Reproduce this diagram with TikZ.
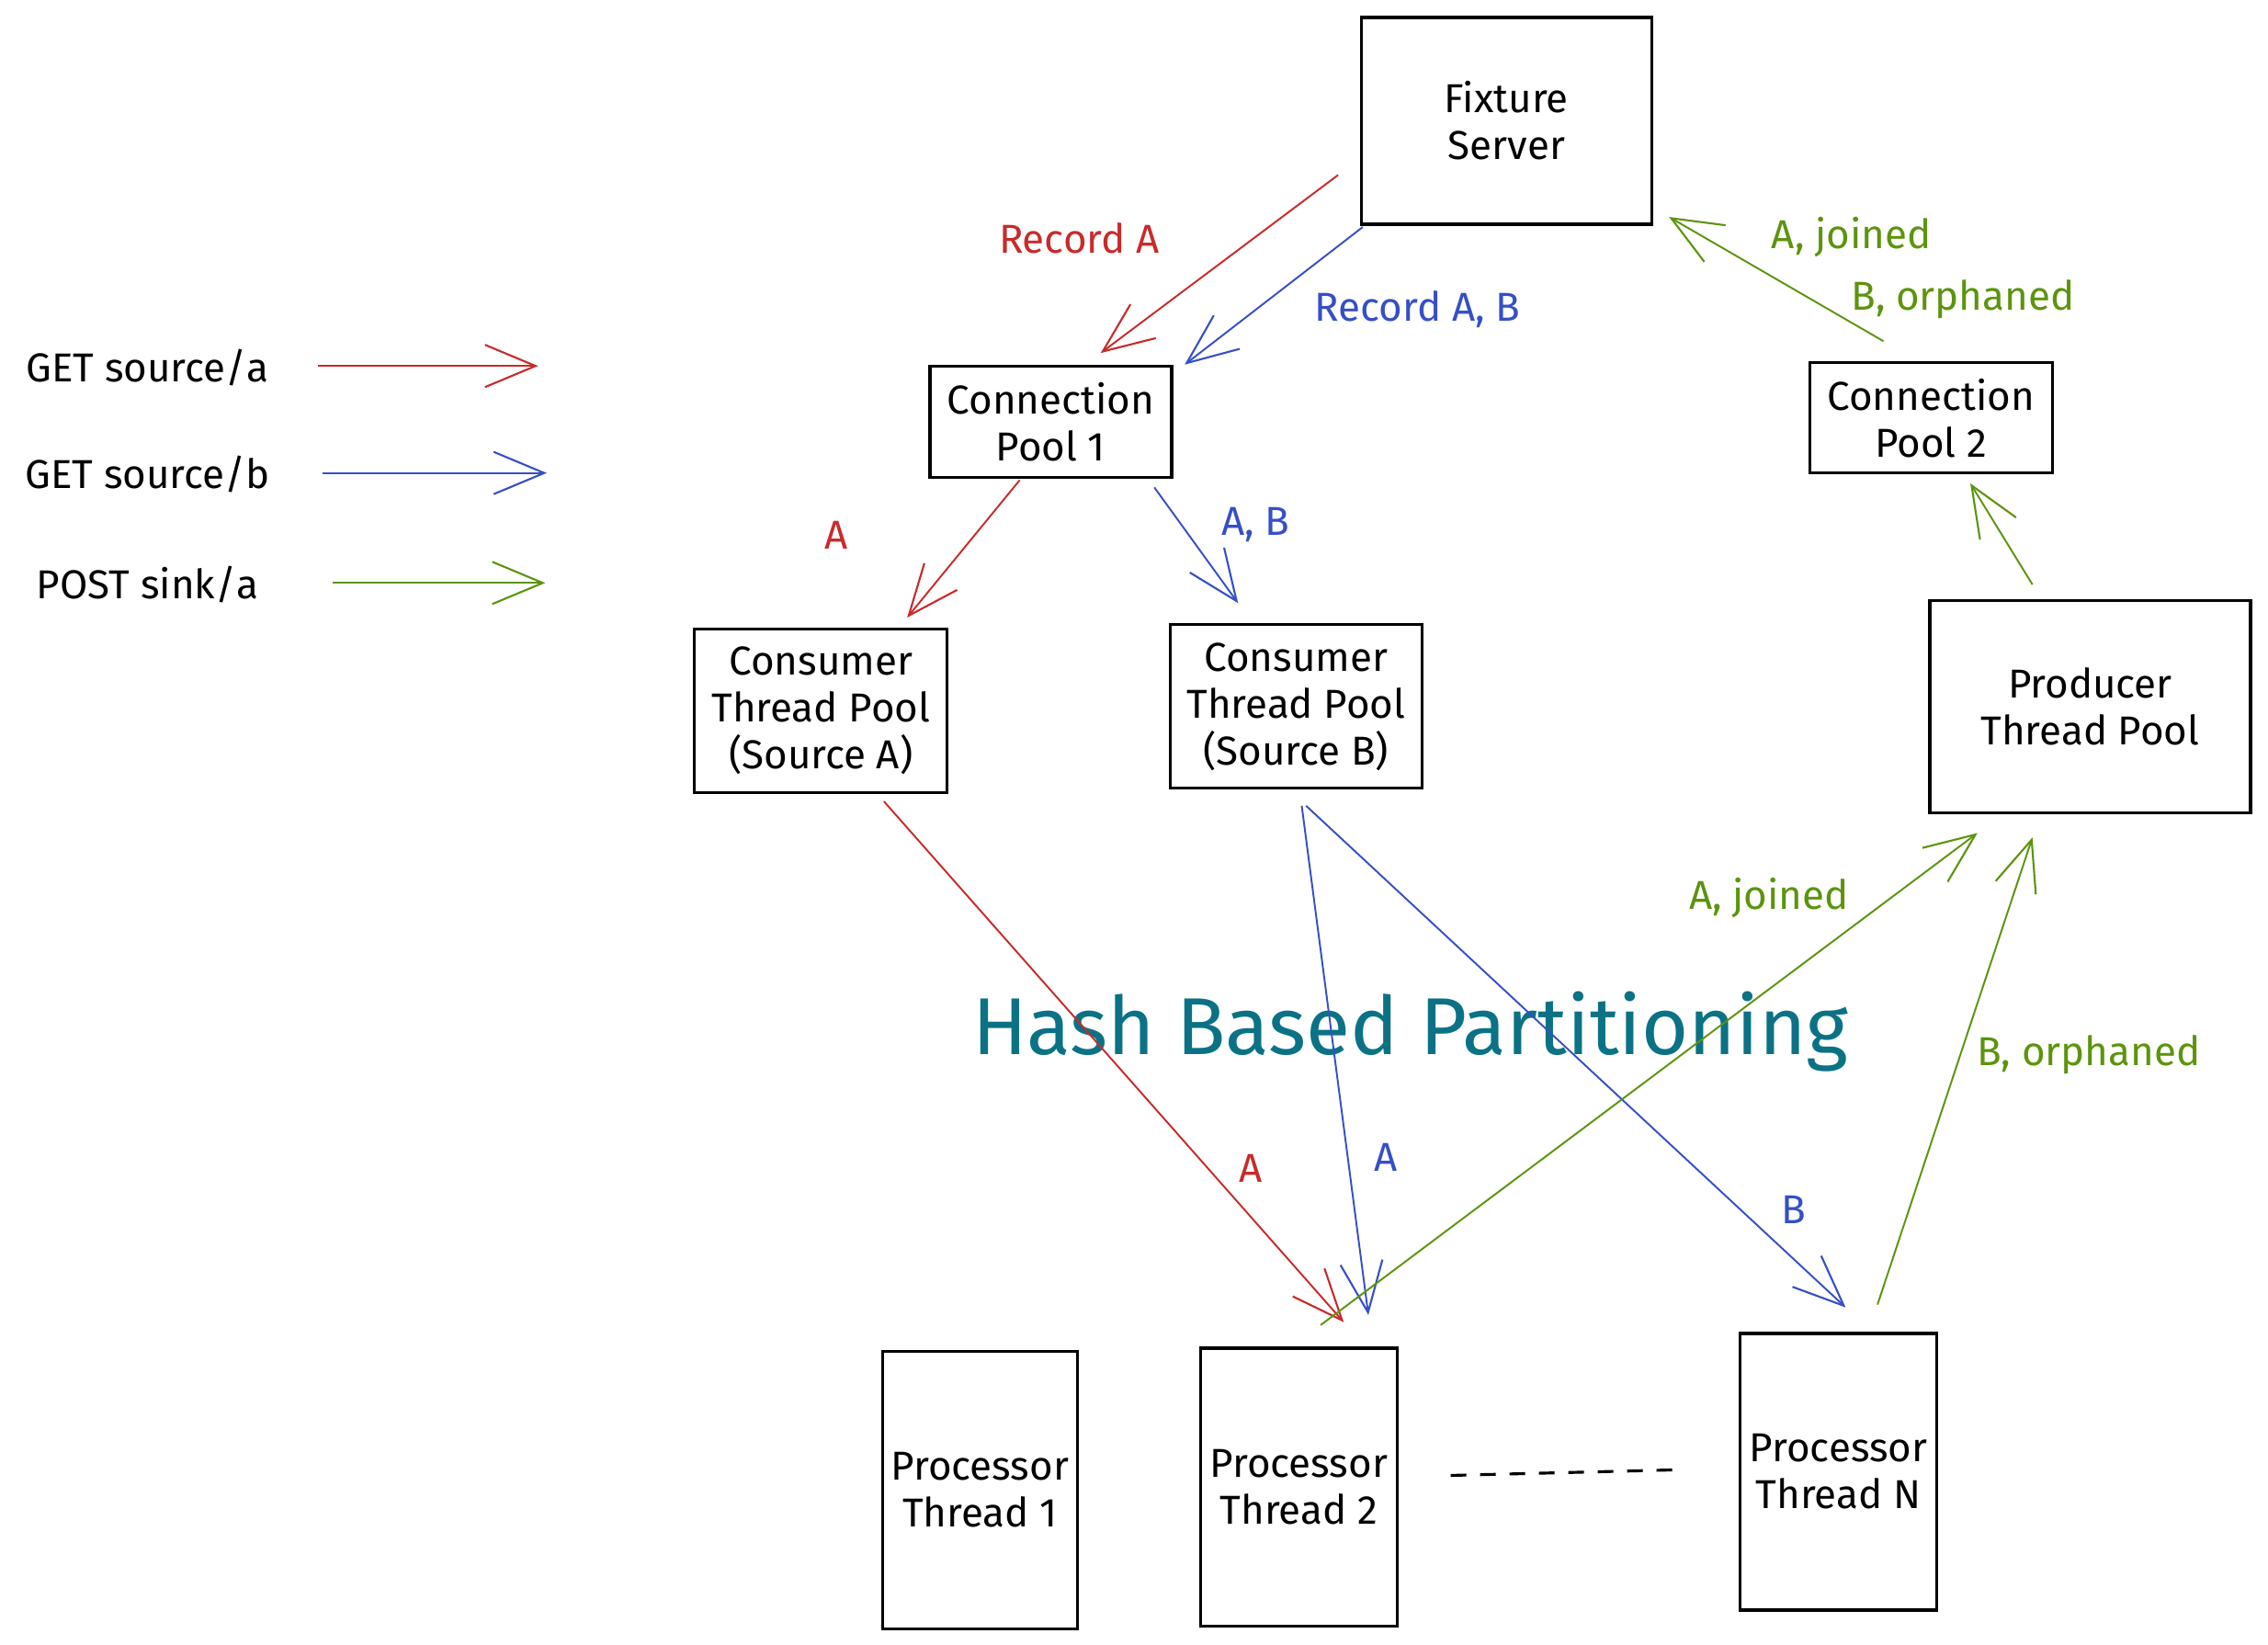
\documentclass[tikz,border=0pt]{standalone}
\usepackage{fontspec}
\setmainfont{Fira Sans}
\usepackage{tikz}
\usetikzlibrary{arrows.meta,calc}
\definecolor{exred}{HTML}{C92A2A}
\definecolor{exblue}{HTML}{364FC7}
\definecolor{exgreen}{HTML}{5C940D}
\definecolor{exteal}{HTML}{0B7285}
\tikzstyle{block}=[rectangle, draw=black, line width=.9pt, align=center, inner sep=2pt, font=\fontsize{12.5}{14.5}\selectfont]
\tikzstyle{flow}=[draw, line width=.55pt, -{Straight Barb[length=5.5mm, width=4.6mm, line width=.6pt]}]
\tikzstyle{geta}=[flow, exred]
\tikzstyle{getb}=[flow, exblue]
\tikzstyle{post}=[flow, exgreen]
\tikzstyle{lbl}=[inner sep=1pt, font=\fontsize{12.5}{14.5}\selectfont]

\begin{document}
\begin{tikzpicture}[x=0.1574mm, y=-0.1574mm]

	\useasboundingbox (0,0) rectangle (1568,1137);

	% legend
	\foreach \name/\txt/\xa/\xb/\yy/\col in {la/GET source\slash a/220/372/253/geta, lb/GET source\slash b/223/378/327/getb, lc/POST sink\slash a/230/377/403/post}{
		\node[lbl] (\name) at (102, \yy+1) {\txt};
		\coordinate (\name_0) at (\xa, \yy);
		\coordinate (\name_1) at (\xb, \yy);
		\draw[\col] (\name_0) -- (\name_1);
	}

	% boxes
	\node[block, minimum width=31.6mm, minimum height=22.5mm] (fix) at (1041.5, 83.5) {Fixture\\Server};
	\node[block, minimum width=26.3mm, minimum height=12.1mm] (cp1) at (726.5, 291.5) {Connection\\Pool 1};
	\node[block, minimum width=26.4mm, minimum height=12.0mm] (cp2) at (1335, 289) {Connection\\Pool 2};
	\node[block, minimum width=27.5mm, minimum height=17.8mm] (cta) at (567.5, 491.5) {Consumer\\Thread Pool\\(Source A)};
	\node[block, minimum width=27.4mm, minimum height=17.8mm] (ctb) at (896, 488.5) {Consumer\\Thread Pool\\(Source B)};
	\node[block, minimum width=34.9mm, minimum height=23.1mm] (ptp) at (1445, 488.5) {Producer\\Thread Pool};
	\node[block, minimum width=21.2mm, minimum height=30.2mm] (pr1) at (677.5, 1030) {Processor\\Thread 1};
	\node[block, minimum width=21.4mm, minimum height=30.2mm] (pr2) at (898, 1028) {Processor\\Thread 2};
	\node[block, minimum width=21.4mm, minimum height=30.1mm] (prn) at (1271, 1017.5) {Processor\\Thread N};

	\draw[line width=.9pt, dash pattern=on 1.7mm off 1.5mm] ($(pr2.east)+(36,-8)$) -- ($(prn.west)+(-38,-1.5)$);

	\node[text=exteal, font=\fontsize{25}{28}\selectfont] (hash) at (975, 713) {Hash Based Partitioning};

	% fixture server <-> pools
	\draw[geta] ($(fix.south west)+(-15,-35)$) -- ($(cp1.north west)+(119,-8)$);
	\draw[getb] ($(fix.south west)+(2,1)$) -- ($(cp1.north east)+(8,0)$);
	\draw[post] ($(cp2.north west)+(52,-14)$) -- ($(fix.south east)+(11,-6)$);

	\node[lbl, text=exred] (l_reca) at (746, 165) {Record A};
	\node[lbl, text=exblue] (l_recab) at (980, 214) {Record A, B};
	\node[lbl, text=exgreen] (l_join) at (1280, 164) {A, joined};
	\node[lbl, text=exgreen] (l_orph) at (1357, 207) {B, orphaned};

	% pools <-> thread pools
	\draw[geta] ($(cp1.south west)+(63,1)$) -- ($(cta.north west)+(148,-7)$);
	\draw[getb] ($(cp1.south east)+(-13,6)$) -- ($(ctb.north west)+(48,-14)$);
	\draw[post] ($(ptp.north west)+(72,-10)$) -- ($(cp2.south west)+(112,6)$);

	\node[lbl, text=exred] (l_a1) at (578, 370) {A};
	\node[lbl, text=exblue] (l_ab) at (868, 363) {A, B};

	% partitioning
	\draw[geta] ($(cta.south west)+(132,5)$) -- ($(pr2.north west)+(100,-17)$);
	\draw[getb] ($(ctb.south west)+(92,11)$) -- ($(pr2.north west)+(117,-22)$);
	\draw[getb] ($(ctb.south west)+(95,11)$) -- ($(prn.north west)+(74,-17)$);
	\draw[post] ($(pr2.north west)+(84,-15)$) -- ($(ptp.south west)+(34,13)$);
	\draw[post] ($(prn.north west)+(96,-19)$) -- ($(ptp.south west)+(72,16)$);

	\node[lbl, text=exred] (l_a2) at (865, 808) {A};
	\node[lbl, text=exblue] (l_a3) at (958, 800) {A};
	\node[lbl, text=exblue] (l_b) at (1240, 836) {B};
	\node[lbl, text=exgreen] (l_join2) at (1223, 621) {A, joined};
	\node[lbl, text=exgreen] (l_orph2) at (1444, 729) {B, orphaned};

\end{tikzpicture}
\end{document}
